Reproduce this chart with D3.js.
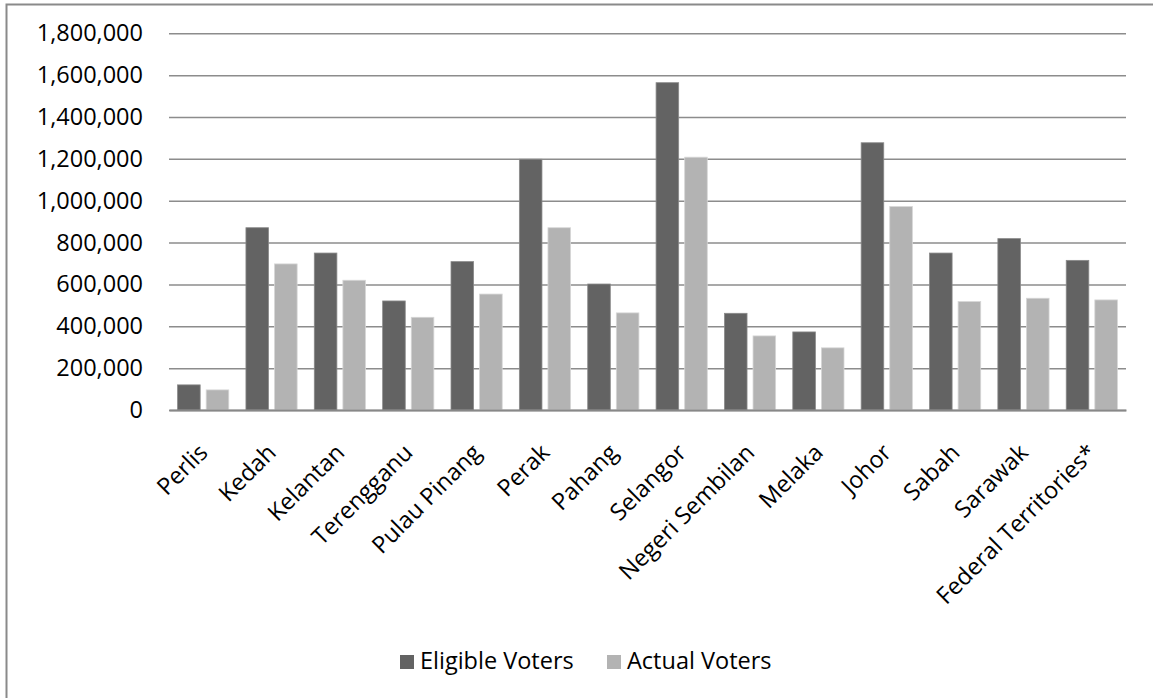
<!DOCTYPE html>
<html>
<head>
<meta charset="utf-8">
<script src="https://cdn.jsdelivr.net/npm/d3@7"></script>
<style>
  body { margin: 0; background: #fff; }
  svg { display: block; }
  svg text { font-family: "Open Sans", sans-serif; }
</style>
</head>
<body>
<svg id="chart"></svg>
<script>
// data
var states = ['Perlis', 'Kedah', 'Kelantan', 'Terengganu', 'Pulau Pinang', 'Perak', 'Pahang',
  'Selangor', 'Negeri Sembilan', 'Melaka', 'Johor', 'Sabah', 'Sarawak', 'Federal Territories*'];
var eligibleVoters = [120000, 871000, 750000, 521000, 709000, 1198000, 602000,
  1564000, 462000, 373000, 1277000, 750000, 819000, 715000];
var actualVoters = [96000, 698000, 620000, 443000, 554000, 871000, 464000,
  1208000, 354000, 297000, 972000, 518000, 534000, 526000];
var seriesNames = ['Eligible Voters', 'Actual Voters'];
var yTicks = [0, 200000, 400000, 600000, 800000, 1000000, 1200000, 1400000, 1600000, 1800000];

/*********chart setup************/
var width = 1153;
var height = 698;
var plot = {left: 169, right: 1126, top: 33.3, bottom: 410};
var colors = ['#636363', '#b3b3b3'];
var fontSize = 23.5;

var svg = d3.select('#chart')
  .attr('width', width)
  .attr('height', height);

// outer frame (right and bottom edges fall outside the picture)
svg.append('rect')
  .attr('x', 6.5).attr('y', 4.5)
  .attr('width', width + 20).attr('height', height + 20)
  .style('fill', 'none')
  .style('stroke', '#8a8a8a')
  .style('stroke-width', 2);

var xScale = d3.scaleBand()
  .domain(states)
  .range([plot.left, plot.right])
  .padding(0);
var xInner = d3.scaleBand()
  .domain(seriesNames)
  .range([0, xScale.bandwidth()])
  .paddingInner(0.21)
  .paddingOuter(0.3);
var yScale = d3.scaleLinear()
  .domain([0, 1800000])
  .range([plot.bottom, plot.top]);

// gridlines + y labels
var yAxis = d3.axisLeft(yScale)
  .tickValues(yTicks)
  .tickSize(-(plot.right - plot.left))
  .tickPadding(26)
  .tickFormat(d3.format(','));
var yG = svg.append('g')
  .attr('transform', 'translate(' + plot.left + ',0)')
  .call(yAxis)
  .attr('font-family', null)
  .attr('font-size', null);
yG.select('.domain').remove();
yG.selectAll('.tick line')
  .style('stroke', '#8c8c8c')
  .style('stroke-width', 1.5);
yG.selectAll('.tick text')
  .style('font-size', fontSize + 'px')
  .style('fill', '#000');

// bars
var rows = states.map(function (s, i) {
  return {state: s, values: [eligibleVoters[i], actualVoters[i]]};
});
var groups = svg.append('g').selectAll('g')
  .data(rows)
  .join('g')
  .attr('transform', function (d) { return 'translate(' + xScale(d.state) + ',0)'; });
groups.selectAll('rect')
  .data(function (d) {
    return d.values.map(function (v, k) { return {name: seriesNames[k], value: v, k: k}; });
  })
  .join('rect')
  .attr('x', function (d) { return xInner(d.name); })
  .attr('width', xInner.bandwidth())
  .attr('y', function (d) { return yScale(d.value); })
  .attr('height', function (d) { return yScale(0) - yScale(d.value); })
  .style('fill', function (d) { return colors[d.k]; })
  .style('stroke', function (d) { return d.k === 0 ? '#8a8a8a' : '#d6d6d6'; })
  .style('stroke-width', 0.8);

// x axis
var xAxis = d3.axisBottom(xScale).tickSize(0).tickPadding(0);
var xG = svg.append('g')
  .attr('transform', 'translate(0,' + plot.bottom + ')')
  .call(xAxis)
  .attr('font-family', null)
  .attr('font-size', null);
xG.select('.domain')
  .style('stroke', '#888')
  .style('stroke-width', 2);
xG.selectAll('.tick text')
  .style('font-size', fontSize + 'px')
  .style('fill', '#000')
  .attr('text-anchor', 'end')
  .attr('dy', null)
  .attr('y', 0)
  .attr('transform', 'translate(6,44) rotate(-45)');

// legend
var legend = svg.append('g');
var legendX = [400, 607];
seriesNames.forEach(function (name, k) {
  legend.append('rect')
    .attr('x', legendX[k]).attr('y', 655)
    .attr('width', 14).attr('height', 14)
    .style('fill', colors[k]);
  legend.append('text')
    .attr('x', legendX[k] + 20).attr('y', 669)
    .style('font-size', fontSize + 'px')
    .text(name);
});
</script>
</body>
</html>
